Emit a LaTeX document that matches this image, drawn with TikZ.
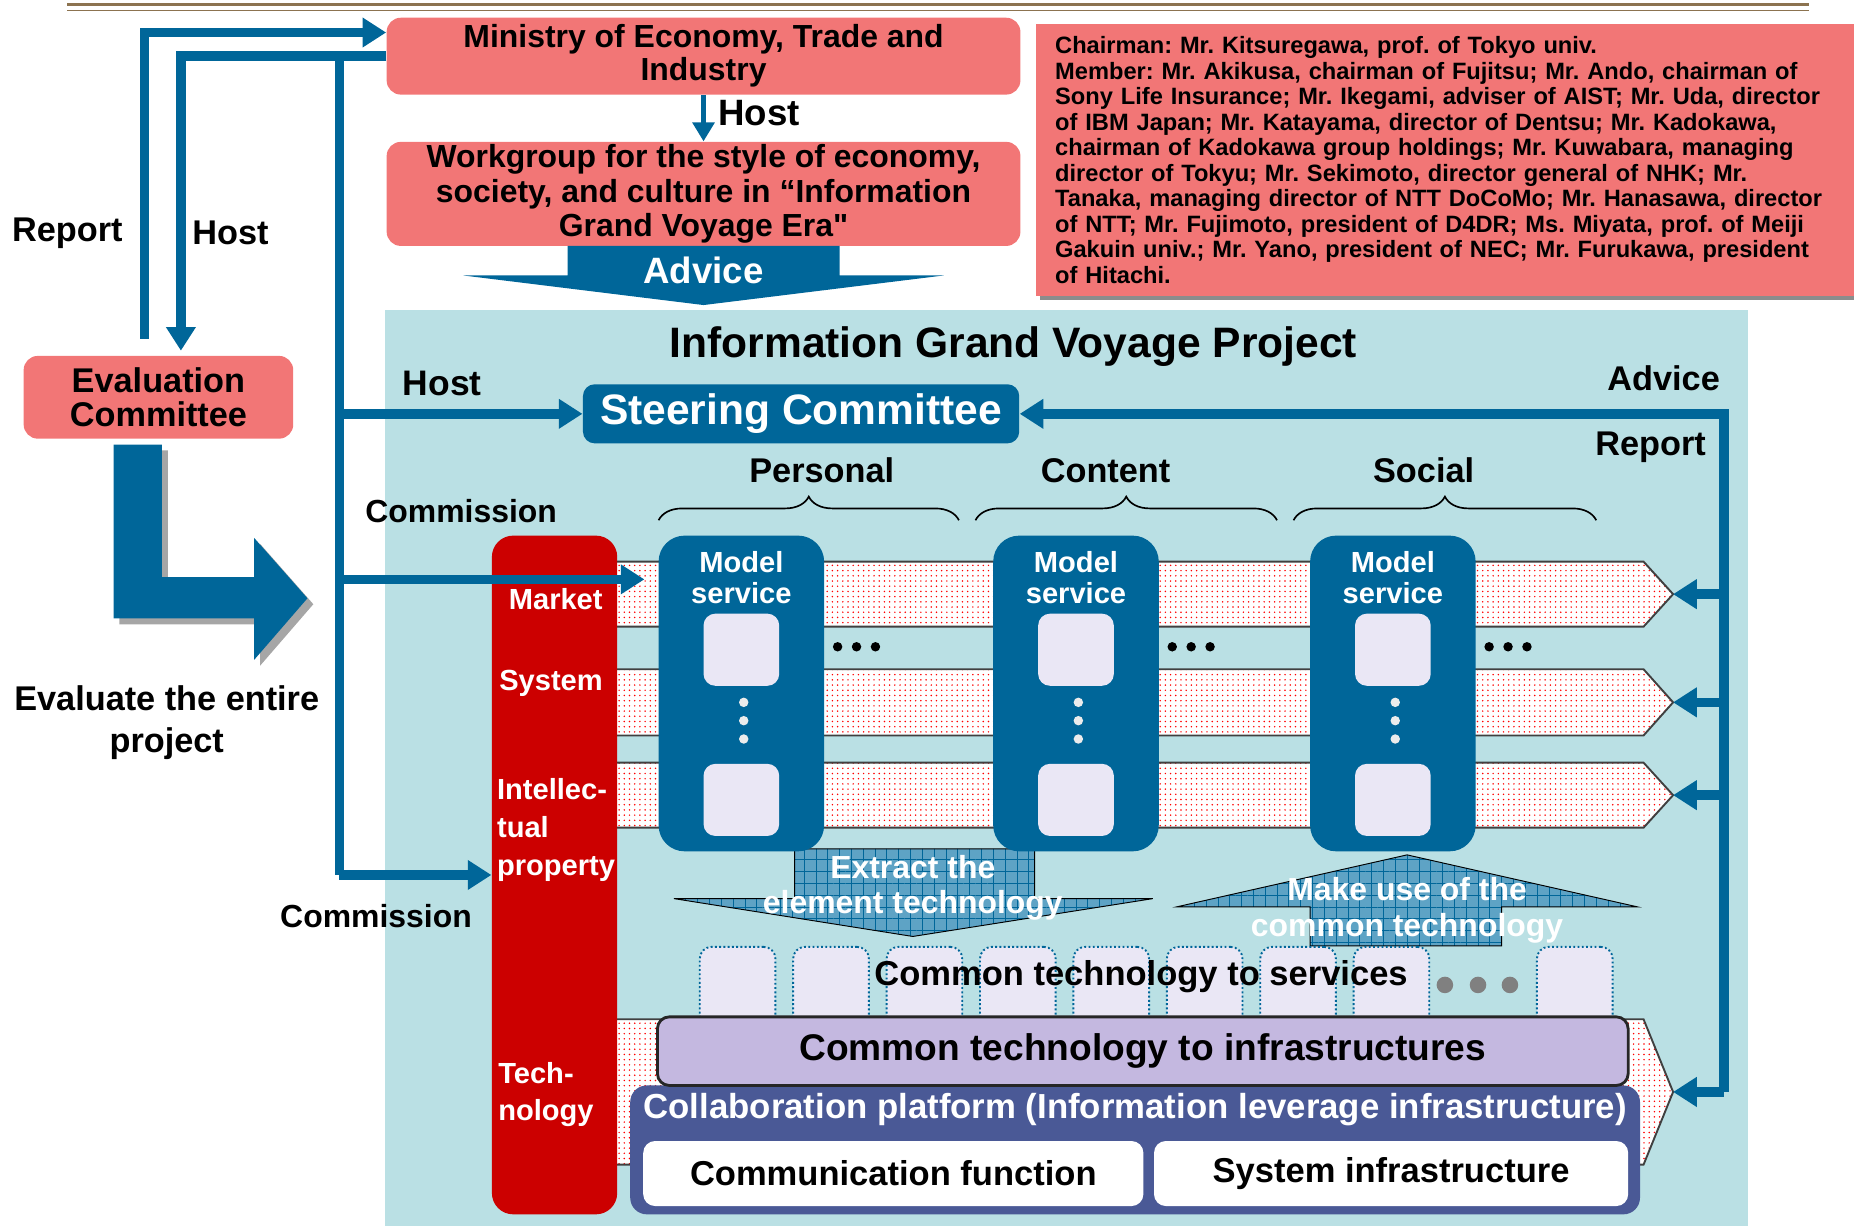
\documentclass[tikz,border=0pt]{standalone}
\usepackage{fontspec}
\setmainfont{Liberation Sans}
\usetikzlibrary{positioning,calc,arrows.meta,patterns,patterns.meta,decorations.pathreplacing,shadows}
\definecolor{ablue}{RGB}{0,102,153}
\definecolor{salmon}{RGB}{242,118,118}
\definecolor{panel}{RGB}{186,224,228}
\definecolor{axisred}{RGB}{204,0,0}
\definecolor{lav}{RGB}{234,231,245}
\definecolor{infrapurple}{RGB}{196,184,224}
\definecolor{collab}{RGB}{74,89,150}
\definecolor{gridblue}{RGB}{94,163,197}
\definecolor{rulecol}{RGB}{140,115,80}
\newcommand\straightquote{\XeTeXglyph\XeTeXcharglyph"22\relax}
\frenchspacing
\begin{document}
\begin{tikzpicture}[x=0.5pt,y=-0.5pt,
    every node/.style={font=\bfseries, inner sep=0pt},
    fs/.style 2 args={font=\bfseries\fontsize{#1}{#2}\selectfont},
    pinkbox/.style={fill=salmon, rounded corners=6pt},
    bluebox/.style={fill=ablue, rounded corners=5pt},
    lavbox/.style={fill=lav, rounded corners=5pt, minimum width=32pt, minimum height=30.5pt},
    svcbox/.style={fill=lav, draw=ablue, densely dotted, line width=0.8pt, rounded corners=5pt,
        minimum width=32pt, minimum height=34pt, anchor=north west},
    whitebox/.style={fill=white, rounded corners=5pt, minimum height=27.5pt, fs={14.6}{15}},
    stripe/.style={draw=black!75, line width=0.8pt, preaction={fill=white},
        pattern={Dots[distance=2.2pt,radius=0.35pt]}, pattern color=red},
    gridarrow/.style={preaction={fill=gridblue},
        pattern={Hatch[angle=0,distance=5pt,line width=0.3pt]}, pattern color=ablue},
    flow/.style={draw=ablue, line width=4pt},
    >={Triangle[width=12pt,length=10pt]}
  ]
  \useasboundingbox (0,0) rectangle (1568,1037);

  \draw[rulecol, line width=1.2pt] (57,4) -- (1530,4);
  \draw[rulecol, line width=0.6pt] (57,9) -- (1530,9);

  \node[pinkbox, minimum width=268pt, minimum height=32.5pt, align=center, fs={13.5}{14}] (ministry)
    at (595,47.5) {Ministry of Economy, Trade and\\Industry};
  \node[pinkbox, minimum width=268pt, minimum height=44pt, align=center, fs={13.5}{14.5}] (workgroup)
    at (595,164) {Workgroup for the style of economy,\\society, and culture in “Information\\Grand Voyage Era\straightquote};
  \draw[ablue, line width=2.5pt, -{Triangle[width=9pt,length=8pt]}] (ministry) -- (workgroup);
  \node[fs={15.5}{16}, anchor=west] (hostw) at (607,96) {Host};

  \fill[ablue] (480,208) -- (710,208) -- (710,233) -- (798,233) -- (595,258) -- (392,233) -- (480,233) -- cycle;
  \node[text=white, fs={15.5}{16}] (advice) at (595,229) {Advice};

  \node[pinkbox, rounded corners=0pt, anchor=north west, minimum height=115pt, text width=345pt,
    inner xsep=8pt, align=left, fs={10}{10.8},
    drop shadow={shadow xshift=1.5pt, shadow yshift=-1.5pt, fill=black!45, opacity=1}] (members) at (876,20)
    {Chairman: Mr. Kitsuregawa, prof. of Tokyo univ.\\
     Member: Mr. Akikusa, chairman of Fujitsu; Mr. Ando, chairman of\\
     Sony Life Insurance; Mr. Ikegami, adviser of AIST; Mr. Uda, director\\
     of IBM Japan; Mr. Katayama, director of Dentsu; Mr. Kadokawa,\\
     chairman of Kadokawa group holdings; Mr. Kuwabara, managing\\
     director of Tokyu; Mr. Sekimoto, director general of NHK; Mr.\\
     Tanaka, managing director of NTT DoCoMo; Mr. Hanasawa, director\\
     of NTT; Mr. Fujimoto, president of D4DR; Ms. Miyata, prof. of Meiji\\
     Gakuin univ.; Mr. Yano, president of NEC; Mr. Furukawa, president\\
     of Hitachi.};

  \node[pinkbox, minimum width=114pt, minimum height=35pt, align=center, fs={14.5}{14.5}] (evalcom)
    at (134,336) {Evaluation\\Committee};
  \node[fs={14.5}{15}] (reportl) at (57,197) {Report};
  \node[fs={14.5}{15}] (hostl) at (195,197) {Host};

  \foreach \dx/\col in {5/gray!70, 0/ablue}
    \fill[\col, shift={(\dx,\dx)}] (96,376) -- (137,376) -- (137,488) -- (215,488) -- (215,455)
      -- (260,506) -- (215,558) -- (215,523) -- (96,523) -- cycle;
  \node[align=center, fs={14.5}{17.5}] (evaltext) at (141,611) {Evaluate the entire\\project};

  \node[fill=panel, minimum width=576pt, minimum height=387.5pt] (project) at (902,649.5) {};
  \node[fs={18}{20}] (title) at (857,293) {Information Grand Voyage Project};
  \node[bluebox, text=white, minimum width=184.5pt, minimum height=25pt, fs={18}{20}] (steering)
    at (677.5,350) {Steering Committee};
  \node[fs={15}{16}] (hostp) at (374,324) {Host};
  \node[fs={14.5}{15}] (advr) at (1407,320) {Advice};
  \node[fs={14.5}{15}] (repr) at (1396,378) {Report};
  \node[fs={13.5}{14}] (comm1) at (390,432) {Commission};
  \node[fs={13.5}{14}] (comm2) at (318,775) {Commission};

  \foreach \name/\xa/\xb/\lx in {Personal/557/811/695, Content/825/1080/935, Social/1094/1350/1204} {
    \draw[decorate, decoration={brace, amplitude=10pt}, line width=0.7pt] (\xa,440) -- (\xb,440);
    \node[fs={14.5}{15}] (\name) at (\lx,398) {\name};
  }

  \foreach \ya/\yb [count=\k] in {475/530, 566/622, 645/700, 862/985} {
    \draw[stripe] (522,\ya) -- (1390,\ya) -- (1415,{(\ya+\yb)/2}) -- (1390,\yb) -- (522,\yb);
    \coordinate (tip\k) at (1415,{(\ya+\yb)/2});
  }

  \node[fill=axisred, rounded corners=9pt, minimum width=53pt, minimum height=287pt] (axis) at (469,740) {};
  \node[text=white, fs={12.3}{13}] (market) at (470,507) {Market};
  \node[text=white, fs={12.3}{13}] (system) at (466,578) {System};
  \node[text=white, anchor=west, align=left, fs={12.3}{16}] (ip) at (420,702) {Intellec-\\tual\\property};
  \node[text=white, anchor=west, align=left, fs={12.3}{15.5}] (tech) at (421,925.5) {Tech-\\nology};

  \draw[gridarrow] (672,718) -- (875,718) -- (875,760) -- (975,760) -- (772,792) -- (570,760) -- (672,760) -- cycle;
  \draw[gridarrow] (1108,800) -- (1108,767) -- (995,767) -- (1190,723) -- (1385,767) -- (1270,767) -- (1270,800) -- cycle;

  \foreach \k/\cx in {1/627, 2/910, 3/1178} {
    \node[bluebox, rounded corners=11pt, minimum width=70pt, minimum height=133.5pt] (model\k) at (\cx,586.5) {};
    \node[text=white, align=center, fs={12.3}{13.5}] (mlabel\k) at (\cx,488.5) {Model\\service};
    \node[lavbox] (unita\k) at (\cx,549.5) {};
    \node[lavbox] (unitb\k) at (\cx,676.5) {};
    \foreach \dy in {594,609.5,625}
      \fill[gray!15] (\cx+2,\dy) circle[radius=2pt];
    \foreach \dx in {11,27,43}
      \fill ($(model\k.east)+(\dx,-39.5)$) circle[radius=2pt];
  }

  \node[text=white, align=center, fs={13.5}{15}] (extract) at (772,751) {Extract the\\element technology};
  \node[text=white, align=center, fs={13.5}{15}] (makeuse) at (1190,770) {Make use of the\\common technology};

  \foreach \sx [count=\k] in {591,670,749,828,907,986,1065,1144,1299}
    \node[svcbox] (svc\k) at (\sx,800) {};
  \node[fs={14.6}{15}] (svctext) at (965,826) {Common technology to services};
  \foreach \dx in {1222,1250,1277}
    \fill[gray] (\dx,833) circle[radius=3.5pt];

  \node[fill=collab, rounded corners=7pt, minimum width=427pt, minimum height=54.5pt] (collab) at (960,972.5) {};
  \node[text=white, fs={14.7}{15}] (collabtext) at (960,938) {Collaboration platform (Information leverage infrastructure)};
  \node[draw=black!85, line width=1.2pt, fill=infrapurple, rounded corners=5pt, minimum width=410.5pt,
    minimum height=29pt, fs={15.7}{16}] (infra) at (966.5,889) {Common technology to infrastructures};
  \node[whitebox, minimum width=211.5pt] (commfn) at (755.5,992.5) {Communication function};
  \node[whitebox, minimum width=200.5pt] (sysinf) at (1176.5,992.5) {System infrastructure};

  \coordinate (hub) at (287,47.5);
  \coordinate (mktin) at (545,490);
  \coordinate (fb) at (1458,350);
  \draw[flow,->] ($(evalcom.north)+(-12,-14)$) |- ($(ministry.west)+(0,-20)$);
  \draw[flow,->] (ministry.west) -| ($(evalcom.north)+(19,-4)$);
  \draw[flow] (hub) -- (hub |- axis.west);
  \draw[flow,->] (hub |- steering.west) -- (steering.west);
  \draw[flow,->] (hub |- mktin) -- (mktin);
  \draw[flow,->] (hub |- axis.west) -- (axis.west);
  \draw[flow,->] (fb |- tip4) -- (fb) -- (steering.east);
  \foreach \k in {1,2,3,4}
    \draw[flow,->] (fb |- tip\k) -- (tip\k);
\end{tikzpicture}
\end{document}
